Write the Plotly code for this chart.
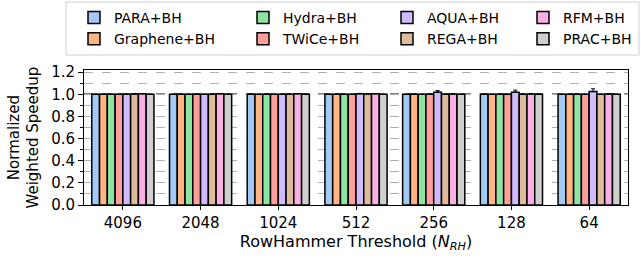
import plotly.graph_objects as go

thresholds = ["4096", "2048", "1024", "512", "256", "128", "64"]
series_names = ["PARA+BH", "Graphene+BH", "Hydra+BH", "TWiCe+BH",
                "AQUA+BH", "REGA+BH", "RFM+BH", "PRAC+BH"]
para     = [1.000, 1.000, 1.000, 1.000, 1.000, 1.000, 1.000]
graphene = [1.000, 1.000, 1.000, 1.000, 1.000, 1.000, 1.000]
hydra    = [1.000, 1.000, 1.000, 1.000, 1.000, 1.000, 1.000]
twice    = [1.000, 1.000, 1.000, 1.000, 1.000, 1.000, 1.000]
aqua     = [1.000, 1.000, 1.000, 1.005, 1.020, 1.020, 1.025]
rega     = [1.003, 1.000, 1.000, 1.003, 1.000, 1.000, 1.000]
rfm      = [1.005, 1.005, 1.005, 1.005, 1.003, 1.003, 1.003]
prac     = [1.000, 1.000, 1.000, 1.000, 1.000, 1.000, 1.000]
aqua_err = [0.002, 0.002, 0.002, 0.004, 0.015, 0.018, 0.025]
other_err = [0.002, 0.002, 0.002, 0.002, 0.002, 0.002, 0.002]

values = [para, graphene, hydra, twice, aqua, rega, rfm, prac]
errs = [other_err, other_err, other_err, other_err, aqua_err, other_err, other_err, other_err]
colors = ["#a1c9f4", "#ffb482", "#8de5a1", "#ff9f9b",
          "#d0bbff", "#debb9b", "#fab0e4", "#cfcfcf"]
# legend layout: column-major, 4 columns x 2 rows
legend_ids = ["legend", "legend", "legend2", "legend2",
              "legend3", "legend3", "legend4", "legend4"]

FONT = "DejaVu Sans"
W, H = 641, 261
L, R, T, B = 84, 13, 70, 56
PW, PH = W - L - R, H - T - B

fig = go.Figure()
for name, v, e, c, lg in zip(series_names, values, errs, colors, legend_ids):
    fig.add_trace(go.Bar(
        x=thresholds, y=v, name=name, legend=lg,
        marker=dict(color=c, line=dict(color="black", width=1.5)),
        error_y=dict(type="data", array=e, arrayminus=[0] * len(e), symmetric=False,
                     color="black", thickness=1, width=2),
    ))

fig.add_shape(type="line", xref="paper", yref="y", x0=0, x1=1, y0=1.0, y1=1.0,
              line=dict(color="black", width=1.5, dash="dash"), layer="below")
# legend frame
fig.add_shape(type="rect", xref="paper", yref="paper",
              x0=(66 - L) / PW, x1=(639 - L) / PW,
              y0=1 + (T - 55) / PH, y1=1 + (T - 2) / PH,
              line=dict(color="#d0d0d0", width=1), fillcolor="rgba(0,0,0,0)")

# y-axis title (two lines)
fig.add_annotation(text="Normalized<br>Weighted Speedup", xref="paper", yref="paper",
                   x=(23 - L) / PW, y=0.5, xanchor="center", yanchor="middle",
                   textangle=-90, showarrow=False,
                   font=dict(family=FONT, size=15, color="black"))

leg_common = dict(orientation="v", xref="container", yref="container",
                  xanchor="left", yanchor="top", bgcolor="rgba(0,0,0,0)",
                  font=dict(family=FONT, size=14, color="black"),
                  itemwidth=30, tracegroupgap=0)
y_leg = 1 - 2 / H
fig.update_layout(
    legend=dict(x=74 / W, y=y_leg, **leg_common),
    legend2=dict(x=243 / W, y=y_leg, **leg_common),
    legend3=dict(x=387 / W, y=y_leg, **leg_common),
    legend4=dict(x=523 / W, y=y_leg, **leg_common),
)

fig.update_layout(
    width=W, height=H,
    margin=dict(l=L, r=R, t=T, b=B, autoexpand=False),
    paper_bgcolor="white", plot_bgcolor="white",
    barmode="group", bargap=0.2, bargroupgap=0,
    font=dict(family=FONT, size=15, color="black"),
    xaxis=dict(
        type="category", range=[-0.5, 6.5], automargin=True,
        showline=True, linecolor="black", linewidth=1, mirror=True,
        ticks="outside", ticklen=4, tickcolor="black",
        tickfont=dict(size=15),
        title=dict(text="RowHammer Threshold (<i>N</i><sub><i>RH</i></sub>)",
                   font=dict(size=16), standoff=1),
    ),
    yaxis=dict(
        range=[0, 1.22], dtick=0.2, tickformat=".1f", automargin=False,
        showline=True, linecolor="black", linewidth=1, mirror=True,
        ticks="outside", ticklen=5, tickcolor="black",
        showgrid=True, gridcolor="#b0b0b0", griddash="dash", gridwidth=1,
        zeroline=False,
        minor=dict(dtick=0.1, showgrid=True, gridcolor="#b0b0b0", griddash="dash",
                   ticks="outside", ticklen=3, tickcolor="black"),
        tickfont=dict(size=15),
    ),
)

fig.write_html("out.html", config={"displayModeBar": False},
               post_script="document.body.style.margin='0';document.body.style.overflow='hidden';")
